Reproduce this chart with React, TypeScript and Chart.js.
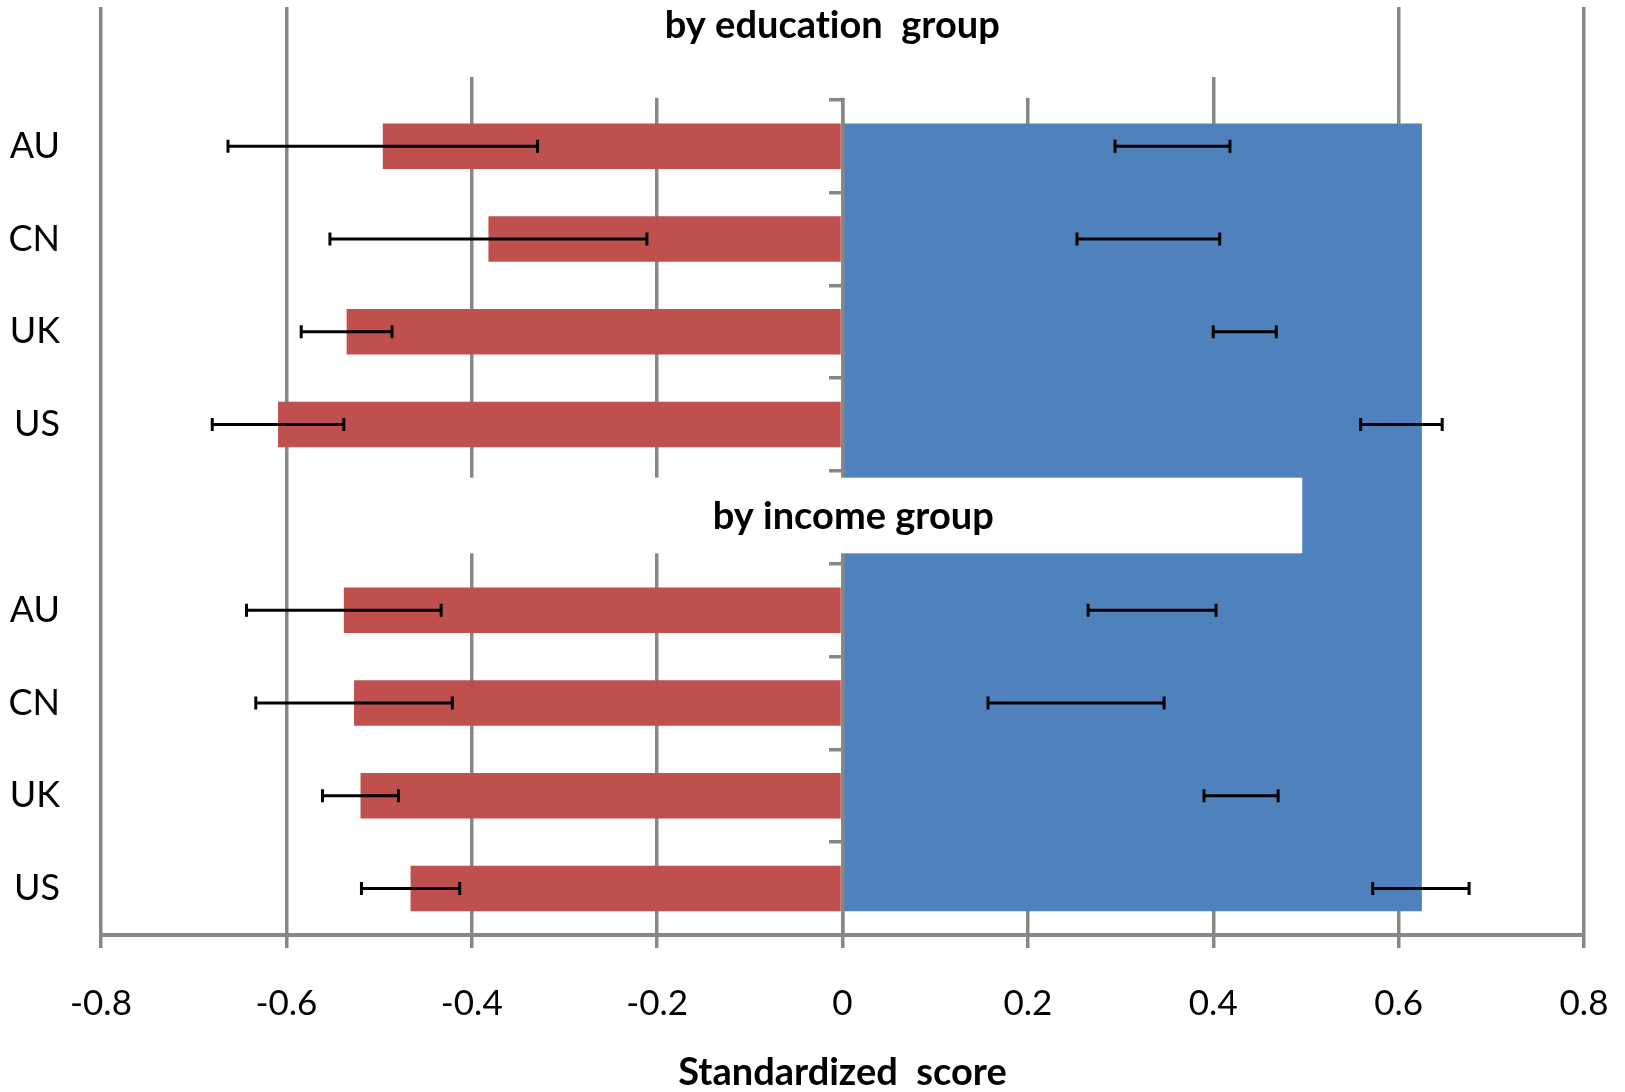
import React, { useEffect, useRef } from "react";
import { Chart, registerables } from "chart.js";

Chart.register(...registerables);

// Rows top to bottom; rows 0 and 5 hold the group titles
const CATEGORIES = ["", "AU", "CN", "UK", "US", "", "AU", "CN", "UK", "US"];
// low group (red) score and error half-width
const LOW_SCORE = [null, -0.496, -0.382, -0.535, -0.609, null, -0.538, -0.527, -0.52, -0.466];
const LOW_ERROR = [null, 0.167, 0.171, 0.049, 0.071, null, 0.105, 0.106, 0.041, 0.053];
// blue bar extent as drawn in the picture
const HIGH_BAR = [null, 0.624, 0.624, 0.624, 0.624, 0.624, 0.624, 0.624, 0.624, 0.624];
// high group error bars (centre and half-width)
const HIGH_SCORE = [null, 0.356, 0.33, 0.434, 0.603, null, 0.334, 0.252, 0.43, 0.624];
const HIGH_ERROR = [null, 0.062, 0.077, 0.034, 0.044, null, 0.069, 0.095, 0.04, 0.052];

const X_TICKS = [-0.8, -0.6, -0.4, -0.2, 0, 0.2, 0.4, 0.6, 0.8];
const X_TICK_LABELS = ["-0.8", "-0.6", "-0.4", "-0.2", "0", "0.2", "0.4", "0.6", "0.8"];
// ZWNJ keeps the "ti" ligature from forming
const GROUP_TITLES = ["by educat\u200Cion  group", "by income group"];
const AXIS_TITLE = "Standardized  score";

const RED = "#C0504D";
const BLUE = "#4F81BD";
const GRAY = "#878787";
const FONT = "Lato, 'Open Sans', sans-serif";

const W = 1625;
const H = 1092;

const errorBarPlugin = {
  id: "errorBars",
  afterDatasetsDraw(chart: any) {
    const { ctx, scales } = chart;
    const x = scales.x;
    const y = scales.y;
    ctx.save();
    ctx.strokeStyle = "#000";
    ctx.lineWidth = 3;
    const cap = 6.5;
    const draw = (c: number | null, e: number | null, i: number) => {
      if (c == null || e == null) return;
      const py = y.getPixelForValue(i);
      const a = x.getPixelForValue(c - e);
      const b = x.getPixelForValue(c + e);
      ctx.beginPath();
      ctx.moveTo(a, py);
      ctx.lineTo(b, py);
      ctx.moveTo(a, py - cap);
      ctx.lineTo(a, py + cap);
      ctx.moveTo(b, py - cap);
      ctx.lineTo(b, py + cap);
      ctx.stroke();
    };
    CATEGORIES.forEach((_, i) => {
      draw(LOW_SCORE[i], LOW_ERROR[i], i);
      draw(HIGH_SCORE[i], HIGH_ERROR[i], i);
    });
    ctx.restore();
  },
};

const blueClipPlugin = {
  id: "blueClip",
  beforeDatasetDraw(chart: any, args: any) {
    if (args.index !== 1) return;
    const red = chart.getDatasetMeta(0).data;
    const idx = LOW_SCORE.map((v, i) => (v == null ? -1 : i)).filter((i) => i >= 0);
    const first = red[idx[0]];
    const last = red[idx[idx.length - 1]];
    const top = first.y - first.height / 2;
    const bottom = last.y + last.height / 2;
    const { ctx, chartArea } = chart;
    ctx.save();
    ctx.beginPath();
    ctx.rect(chartArea.left, top, chartArea.right - chartArea.left, bottom - top);
    ctx.clip();
  },
  afterDatasetDraw(chart: any, args: any) {
    if (args.index === 1) chart.ctx.restore();
  },
};

const titlePlugin = {
  id: "groupTitles",
  afterDraw(chart: any) {
    const { ctx, chartArea, scales } = chart;
    const x = scales.x;
    const y = scales.y;
    const row = y.getPixelForValue(1) - y.getPixelForValue(0);
    const r0 = y.getPixelForValue(0);
    const r5 = y.getPixelForValue(5);
    const box = (v1: number, v2: number, t: number, b: number) => {
      const a = x.getPixelForValue(v1);
      const c = x.getPixelForValue(v2);
      ctx.fillRect(a, t, c - a, b - t);
    };
    ctx.save();
    ctx.fillStyle = "#ffffff";
    box(-0.5, 0.48, chartArea.top - 3, r0 + 0.254 * row);
    box(-0.3, 0.3, chartArea.top - 3, r0 + 0.5 * row - 2);
    box(-0.472, 0.496, r5 - 0.428 * row, r5 + 0.387 * row);
    ctx.fillStyle = "#000";
    ctx.font = `bold 38px ${FONT}`;
    ctx.textAlign = "center";
    ctx.textBaseline = "middle";
    ctx.fillText(GROUP_TITLES[0], x.getPixelForValue(-0.011), chartArea.top + 19);
    ctx.fillText(GROUP_TITLES[1], x.getPixelForValue(0.0116), r5 - 1);
    ctx.restore();
  },
};

export default function App() {
  const ref = useRef<HTMLCanvasElement | null>(null);
  useEffect(() => {
    document.body.style.margin = "0";
    const canvas = ref.current;
    if (!canvas) return;
    const chart = new Chart(canvas, {
      type: "bar",
      data: {
        labels: CATEGORIES,
        datasets: [
          {
            label: "low",
            data: LOW_SCORE as any,
            backgroundColor: RED,
            barPercentage: 0.49,
            categoryPercentage: 1,
            grouped: false,
            borderWidth: 0,
          } as any,
          {
            label: "high",
            data: HIGH_BAR as any,
            backgroundColor: BLUE,
            barPercentage: 1,
            categoryPercentage: 1,
            grouped: false,
            borderWidth: 0,
            inflateAmount: 1,
          } as any,
        ],
      },
      options: {
        indexAxis: "y",
        responsive: false,
        animation: false,
        devicePixelRatio: 1,
        layout: { padding: { top: 7, right: 41, left: 0, bottom: 0 } },
        plugins: {
          legend: { display: false },
          tooltip: { enabled: false },
          title: { display: false },
        },
        scales: {
          x: {
            type: "linear",
            min: -0.8,
            max: 0.8,
            afterBuildTicks: (s: any) => {
              s.ticks = X_TICKS.map((v) => ({ value: v }));
            },
            afterFit: (s: any) => {
              s.height = H - 935;
              s.paddingLeft = 0;
              s.paddingRight = 0;
              s.paddingTop = 0;
              s.paddingBottom = 0;
            },
            grid: {
              color: GRAY,
              lineWidth: 3.5,
              drawTicks: true,
              tickLength: 13,
              tickColor: GRAY,
            },
            border: { display: true, color: GRAY, width: 4 },
            ticks: {
              color: "#000",
              font: { family: FONT, size: 35 },
              padding: 35,
              maxRotation: 0,
              autoSkip: false,
              callback: (_v: any, i: number) => X_TICK_LABELS[i],
            },
            title: {
              display: true,
              text: AXIS_TITLE,
              color: "#000",
              font: { family: FONT, size: 38, weight: "bold", lineHeight: 1 },
              padding: { top: 0, bottom: 0 },
            },
          },
          y: {
            type: "category",
            position: "left",
            afterFit: (s: any) => {
              s.width = 101;
              s.paddingLeft = 0;
              s.paddingRight = 0;
              s.paddingTop = 0;
              s.paddingBottom = 0;
            },
            grid: { display: false, drawTicks: false },
            border: { display: false },
            ticks: {
              color: "#000",
              font: { family: FONT, size: 36 },
              padding: 41,
              autoSkip: false,
            },
          },
          y2: {
            type: "category",
            axis: "y",
            position: { x: 0 } as any,
            offset: true,
            afterFit: (s: any) => {
              s.paddingLeft = 0;
              s.paddingRight = 0;
              s.paddingTop = 0;
              s.paddingBottom = 0;
            },
            grid: {
              offset: true,
              drawOnChartArea: false,
              drawTicks: true,
              tickLength: 12,
              color: GRAY,
              lineWidth: 3.5,
              z: 1,
            },
            border: { display: true, color: GRAY, width: 3.5, z: 1 },
            ticks: { display: false },
          } as any,
        },
      } as any,
      plugins: [blueClipPlugin, errorBarPlugin, titlePlugin],
    });
    return () => chart.destroy();
  }, []);
  return (
    <canvas
      ref={ref}
      width={W}
      height={H}
      style={{ display: "block", width: W, height: H }}
    />
  );
}
